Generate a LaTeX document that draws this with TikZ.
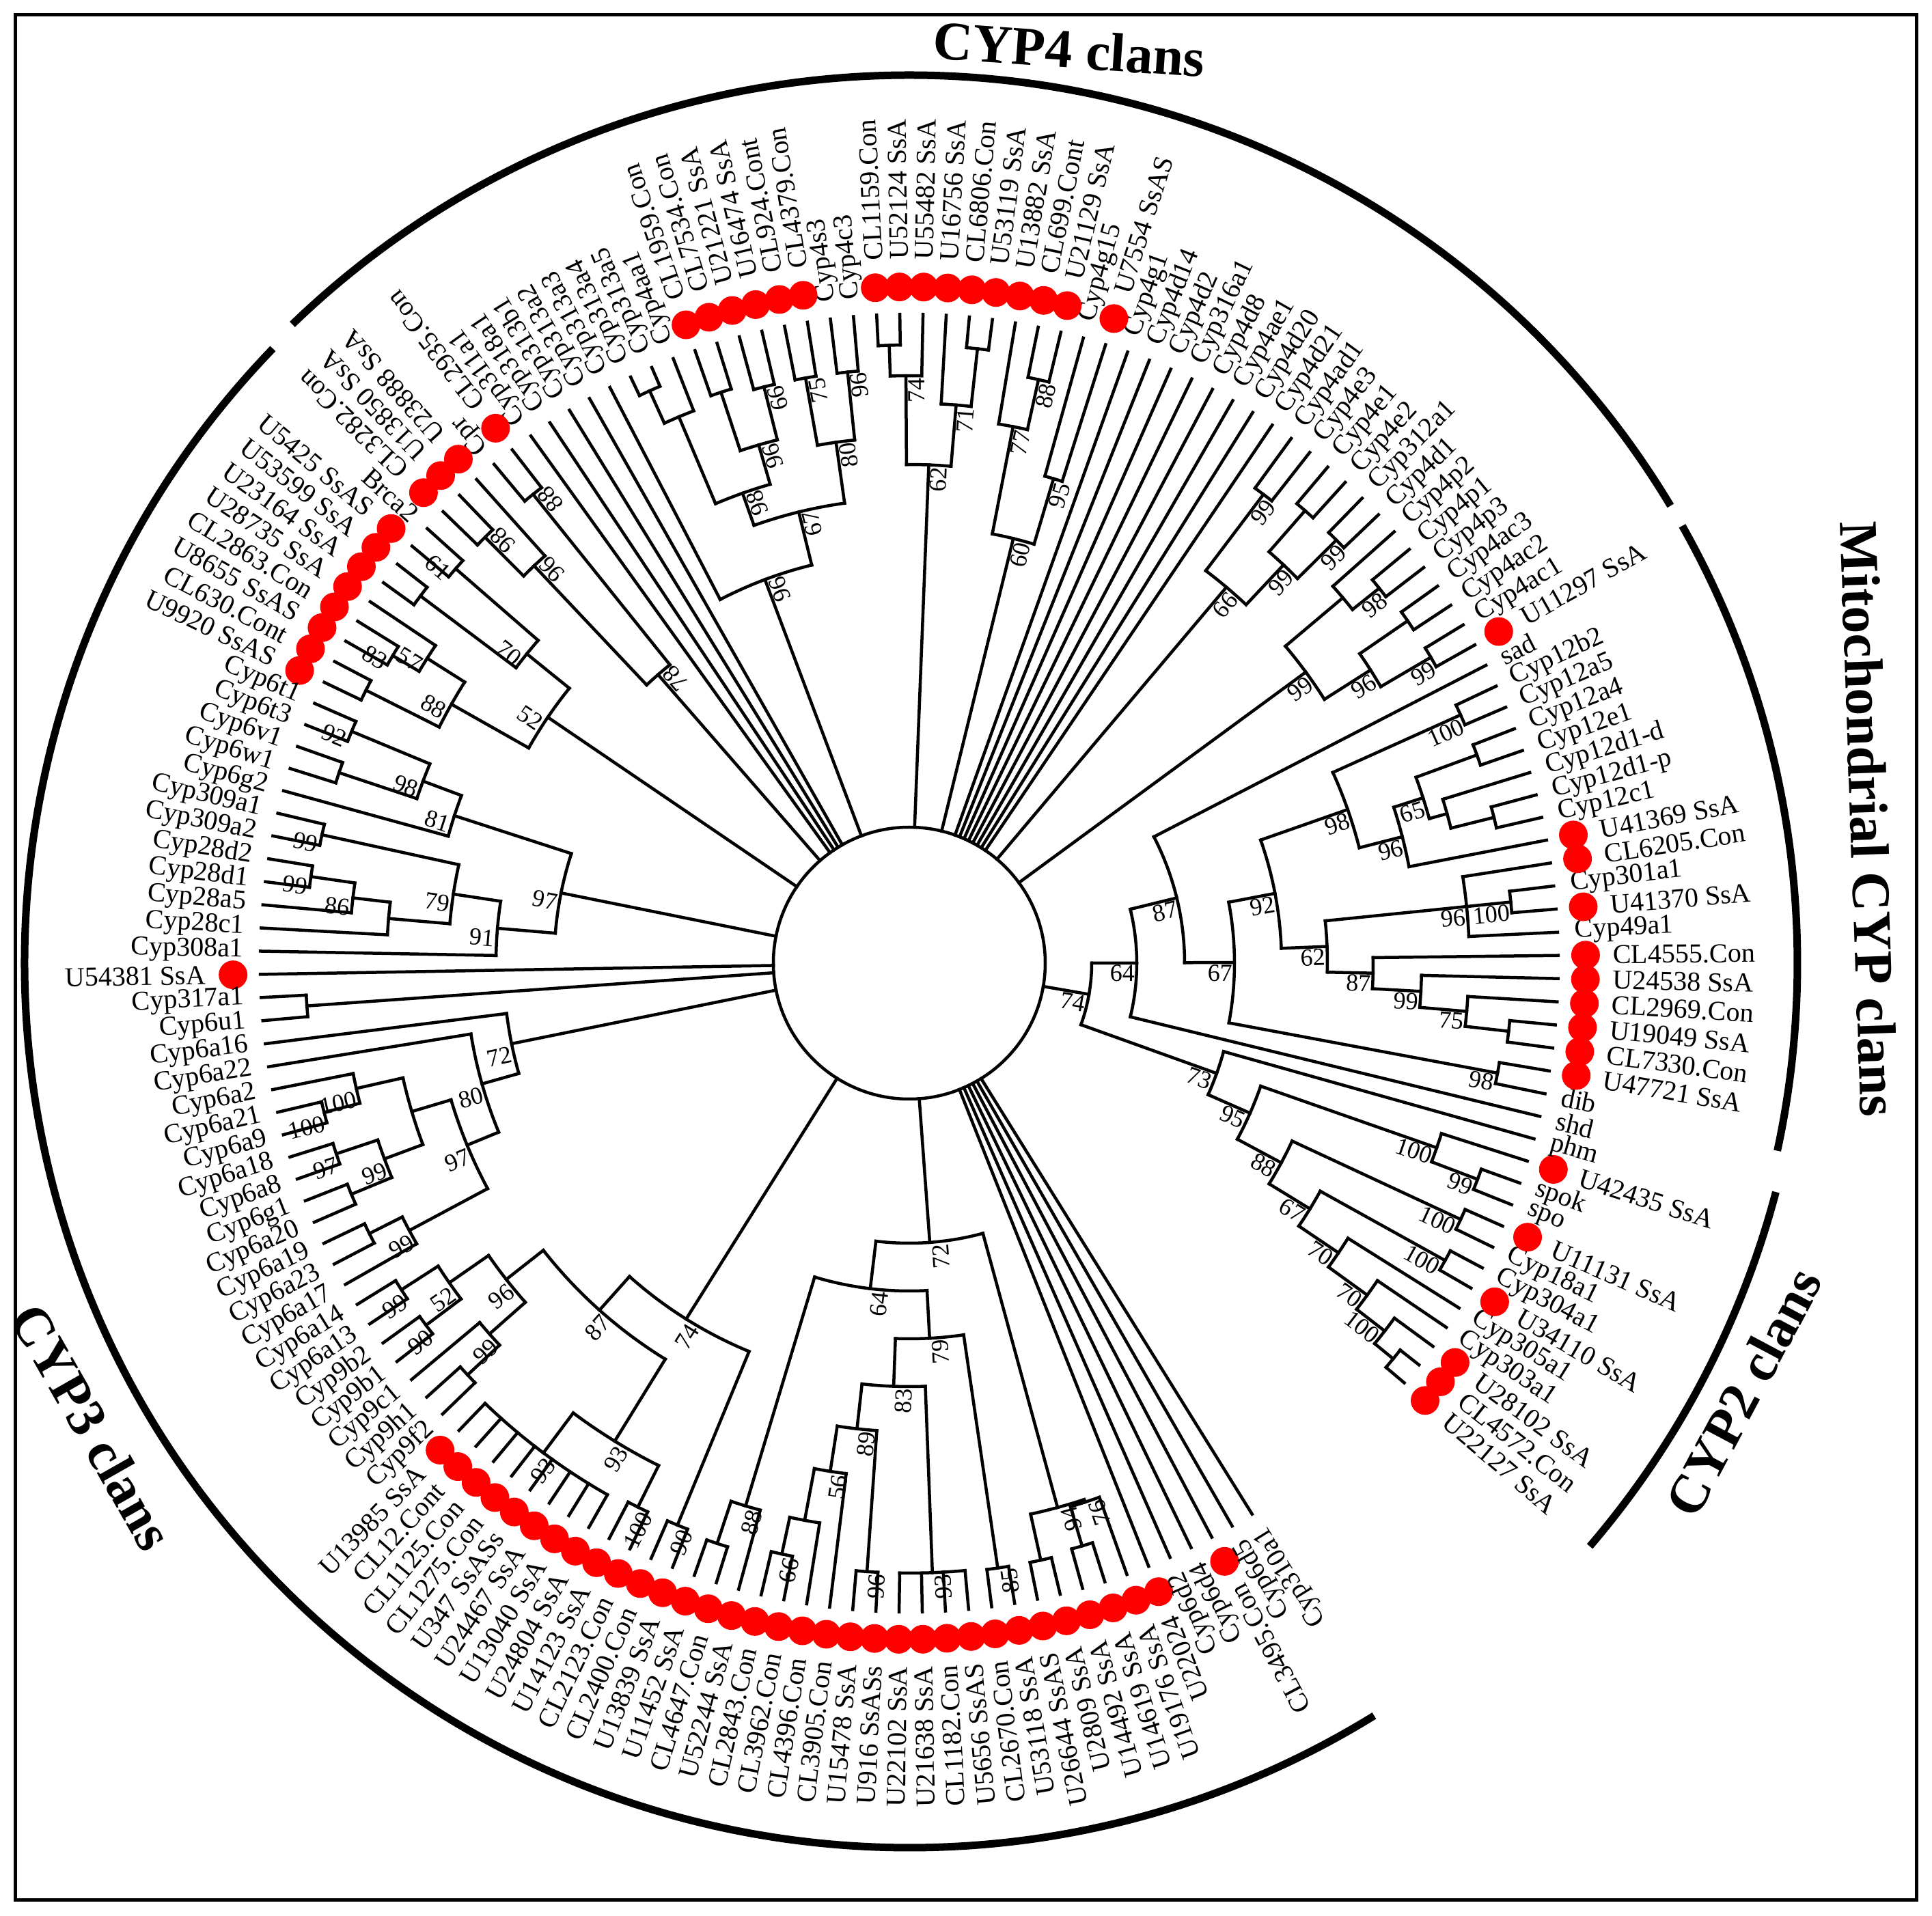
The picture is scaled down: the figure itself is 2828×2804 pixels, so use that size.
\documentclass[tikz,border=0pt]{standalone}
\usepackage{fontspec}
\setmainfont{Liberation Serif}
\newcommand\tboot[3]{%
  \ifx&#3&\else
    \pgfmathsetmacro\tbrot{(#1>=137 && #1<=310) ? #1-180 : #1}%
    \node[bootlab,rotate=\tbrot,anchor=north east] at (#1:#2) {#3};%
  \fi}
\newcommand\tleaf[3]{%
  \pgfmathsetmacro\lfang{-40.3+2.049*(#1-1)}%
  \expandafter\xdef\csname ang@l#1\endcsname{\lfang}%
  \coordinate (l#1) at (\lfang:950);
  \pgfmathsetmacro\lfrot{(\lfang>=137 && \lfang<=310) ? \lfang-180 : \lfang}%
  \pgfmathtruncatemacro\lfflip{(\lfang>=137 && \lfang<=310) ? 1 : 0}%
  \ifnum#3=1 \fill[dotc] (\lfang:990) circle[radius=21]; \def\lfr{1030}\else\def\lfr{975}\fi
  \ifnum\lfflip=1 \node[leaflab,rotate=\lfrot,anchor=east] (t#1) at (\lfang:\lfr) {#2};%
  \else \node[leaflab,rotate=\lfrot,anchor=west] (t#1) at (\lfang:\lfr) {#2};\fi
}
\newcommand\tnode[4]{%
  \gdef\tnmin{1000}\gdef\tnmax{-1000}%
  \foreach \chd in {#3}{%
    \edef\tnca{\csname ang@\chd\endcsname}%
    \draw[br] (\chd) -- (\tnca:#2);
    \pgfmathsetmacro\tnt{min(\tnmin,\tnca)}\xdef\tnmin{\tnt}%
    \pgfmathsetmacro\tnt{max(\tnmax,\tnca)}\xdef\tnmax{\tnt}%
  }%
  \draw[br] (\tnmin:#2) arc[start angle=\tnmin, end angle=\tnmax, radius=#2];
  \pgfmathsetmacro\tnmid{(\tnmin+\tnmax)/2}%
  \expandafter\xdef\csname ang@#1\endcsname{\tnmid}%
  \coordinate (#1) at (\tnmid:#2);
  \tboot{\tnmid}{#2}{#4}%
}
\newcommand\troot[1]{%
  \foreach \chd in {#1}{%
    \edef\tnca{\csname ang@\chd\endcsname}%
    \draw[br] (\chd) -- (\tnca:199);
  }}
\begin{document}
\begin{tikzpicture}[x=1pt,y=1pt,
  br/.style={line width=4.5pt,line cap=rect},
  leaflab/.style={font=\fontsize{40}{46}\selectfont,inner sep=0pt},
  bootlab/.style={font=\fontsize{36}{42}\selectfont,inner sep=3pt},
  cltitle/.style={font=\fontsize{80}{90}\selectfont\bfseries,inner sep=0pt},
  clanarc/.style={line width=11pt},
  dotc/.style={fill=red}]
\useasboundingbox (-1331,-1394) rectangle (1497,1410);
\draw[line width=5pt] (-1308,-1371) rectangle (1474,1388);
\coordinate (root) at (0,0);
\draw[br] (root) circle[radius=199];
% ---------------- leaves
\tleaf{1}{U22127 SsA}{1}
\tleaf{2}{CL4572.Con}{1}
\tleaf{3}{U28102 SsA}{1}
\tleaf{4}{Cyp303a1}{0}
\tleaf{5}{Cyp305a1}{0}
\tleaf{6}{U34110 SsA}{1}
\tleaf{7}{Cyp304a1}{0}
\tleaf{8}{Cyp18a1}{0}
\tleaf{9}{U11131 SsA}{1}
\tleaf{10}{spo}{0}
\tleaf{11}{spok}{0}
\tleaf{12}{U42435 SsA}{1}
\tleaf{13}{phm}{0}
\tleaf{14}{shd}{0}
\tleaf{15}{dib}{0}
\tleaf{16}{U47721 SsA}{1}
\tleaf{17}{CL7330.Con}{1}
\tleaf{18}{U19049 SsA}{1}
\tleaf{19}{CL2969.Con}{1}
\tleaf{20}{U24538 SsA}{1}
\tleaf{21}{CL4555.Con}{1}
\tleaf{22}{Cyp49a1}{0}
\tleaf{23}{U41370 SsA}{1}
\tleaf{24}{Cyp301a1}{0}
\tleaf{25}{CL6205.Con}{1}
\tleaf{26}{U41369 SsA}{1}
\tleaf{27}{Cyp12c1}{0}
\tleaf{28}{Cyp12d1-p}{0}
\tleaf{29}{Cyp12d1-d}{0}
\tleaf{30}{Cyp12e1}{0}
\tleaf{31}{Cyp12a4}{0}
\tleaf{32}{Cyp12a5}{0}
\tleaf{33}{Cyp12b2}{0}
\tleaf{34}{sad}{0}
\tleaf{35}{U11297 SsA}{1}
\tleaf{36}{Cyp4ac1}{0}
\tleaf{37}{Cyp4ac2}{0}
\tleaf{38}{Cyp4ac3}{0}
\tleaf{39}{Cyp4p3}{0}
\tleaf{40}{Cyp4p1}{0}
\tleaf{41}{Cyp4p2}{0}
\tleaf{42}{Cyp4d1}{0}
\tleaf{43}{Cyp312a1}{0}
\tleaf{44}{Cyp4e2}{0}
\tleaf{45}{Cyp4e1}{0}
\tleaf{46}{Cyp4e3}{0}
\tleaf{47}{Cyp4ad1}{0}
\tleaf{48}{Cyp4d21}{0}
\tleaf{49}{Cyp4d20}{0}
\tleaf{50}{Cyp4ae1}{0}
\tleaf{51}{Cyp4d8}{0}
\tleaf{52}{Cyp316a1}{0}
\tleaf{53}{Cyp4d2}{0}
\tleaf{54}{Cyp4d14}{0}
\tleaf{55}{Cyp4g1}{0}
\tleaf{56}{U7554 SsAS}{1}
\tleaf{57}{Cyp4g15}{0}
\tleaf{58}{U21129 SsA}{1}
\tleaf{59}{CL699.Cont}{1}
\tleaf{60}{U13882 SsA}{1}
\tleaf{61}{U53119 SsA}{1}
\tleaf{62}{CL6806.Con}{1}
\tleaf{63}{U16756 SsA}{1}
\tleaf{64}{U55482 SsA}{1}
\tleaf{65}{U52124 SsA}{1}
\tleaf{66}{CL1159.Con}{1}
\tleaf{67}{Cyp4c3}{0}
\tleaf{68}{Cyp4s3}{0}
\tleaf{69}{CL4379.Con}{1}
\tleaf{70}{CL924.Cont}{1}
\tleaf{71}{U16474 SsA}{1}
\tleaf{72}{U21221 SsA}{1}
\tleaf{73}{CL7534.Con}{1}
\tleaf{74}{CL1959.Con}{1}
\tleaf{75}{Cyp4aa1}{0}
\tleaf{76}{Cyp313a5}{0}
\tleaf{77}{Cyp313a4}{0}
\tleaf{78}{Cyp313a3}{0}
\tleaf{79}{Cyp313a2}{0}
\tleaf{80}{Cyp313b1}{0}
\tleaf{81}{Cyp318a1}{0}
\tleaf{82}{Cyp311a1}{0}
\tleaf{83}{CL2935.Con}{1}
\tleaf{84}{Cpr}{0}
\tleaf{85}{U23888 SsA}{1}
\tleaf{86}{U13850 SsA}{1}
\tleaf{87}{CL3282.Con}{1}
\tleaf{88}{Brca2}{0}
\tleaf{89}{U5425 SsAS}{1}
\tleaf{90}{U53599 SsA}{1}
\tleaf{91}{U23164 SsA}{1}
\tleaf{92}{U28735 SsA}{1}
\tleaf{93}{CL2863.Con}{1}
\tleaf{94}{U8655 SsAS}{1}
\tleaf{95}{CL630.Cont}{1}
\tleaf{96}{U9920 SsAS}{1}
\tleaf{97}{Cyp6t1}{0}
\tleaf{98}{Cyp6t3}{0}
\tleaf{99}{Cyp6v1}{0}
\tleaf{100}{Cyp6w1}{0}
\tleaf{101}{Cyp6g2}{0}
\tleaf{102}{Cyp309a1}{0}
\tleaf{103}{Cyp309a2}{0}
\tleaf{104}{Cyp28d2}{0}
\tleaf{105}{Cyp28d1}{0}
\tleaf{106}{Cyp28a5}{0}
\tleaf{107}{Cyp28c1}{0}
\tleaf{108}{Cyp308a1}{0}
\tleaf{109}{U54381 SsA}{1}
\tleaf{110}{Cyp317a1}{0}
\tleaf{111}{Cyp6u1}{0}
\tleaf{112}{Cyp6a16}{0}
\tleaf{113}{Cyp6a22}{0}
\tleaf{114}{Cyp6a2}{0}
\tleaf{115}{Cyp6a21}{0}
\tleaf{116}{Cyp6a9}{0}
\tleaf{117}{Cyp6a18}{0}
\tleaf{118}{Cyp6a8}{0}
\tleaf{119}{Cyp6g1}{0}
\tleaf{120}{Cyp6a20}{0}
\tleaf{121}{Cyp6a19}{0}
\tleaf{122}{Cyp6a23}{0}
\tleaf{123}{Cyp6a17}{0}
\tleaf{124}{Cyp6a14}{0}
\tleaf{125}{Cyp6a13}{0}
\tleaf{126}{Cyp9b2}{0}
\tleaf{127}{Cyp9b1}{0}
\tleaf{128}{Cyp9c1}{0}
\tleaf{129}{Cyp9h1}{0}
\tleaf{130}{Cyp9f2}{0}
\tleaf{131}{U13985 SsA}{1}
\tleaf{132}{CL12.Cont}{1}
\tleaf{133}{CL1125.Con}{1}
\tleaf{134}{CL1275.Con}{1}
\tleaf{135}{U347 SsASs}{1}
\tleaf{136}{U24467 SsA}{1}
\tleaf{137}{U13040 SsA}{1}
\tleaf{138}{U24804 SsA}{1}
\tleaf{139}{U14123 SsA}{1}
\tleaf{140}{CL2123.Con}{1}
\tleaf{141}{CL2400.Con}{1}
\tleaf{142}{U13839 SsA}{1}
\tleaf{143}{U11452 SsA}{1}
\tleaf{144}{CL4647.Con}{1}
\tleaf{145}{U52244 SsA}{1}
\tleaf{146}{CL2843.Con}{1}
\tleaf{147}{CL3962.Con}{1}
\tleaf{148}{CL4396.Con}{1}
\tleaf{149}{CL3905.Con}{1}
\tleaf{150}{U15478 SsA}{1}
\tleaf{151}{U916 SsASs}{1}
\tleaf{152}{U22102 SsA}{1}
\tleaf{153}{U21638 SsA}{1}
\tleaf{154}{CL1182.Con}{1}
\tleaf{155}{U5656 SsAS}{1}
\tleaf{156}{CL2670.Con}{1}
\tleaf{157}{U53118 SsA}{1}
\tleaf{158}{U26644 SsAS}{1}
\tleaf{159}{U2809 SsA}{1}
\tleaf{160}{U14492 SsA}{1}
\tleaf{161}{U14619 SsA}{1}
\tleaf{162}{U19176 SsA}{1}
\tleaf{163}{U22024}{1}
\tleaf{164}{Cyp6d2}{0}
\tleaf{165}{Cyp6d4}{0}
\tleaf{166}{CL3495.Con}{1}
\tleaf{167}{Cyp6d5}{0}
\tleaf{168}{Cyp310a1}{0}
% ---------------- CYP2 clade
\tnode{ka}{915}{l2,l1}{}
\tnode{kb}{880}{l3,ka}{100}
\tnode{kc}{828}{l4,kb}{70}
\tnode{kd}{758}{l5,kc}{70}
\tnode{ke}{897}{l7,l6}{100}
\tnode{kf}{688}{ke,kd}{67}
\tnode{kg}{890}{l9,l8}{100}
\tnode{kh}{618}{kg,kf}{88}
\tnode{ki}{890}{l11,l10}{99}
\tnode{kj}{818}{l12,ki}{100}
\tnode{kk}{545}{kj,kh}{95}
\tnode{kl}{478}{l13,kk}{73}
% ---------------- mitochondrial clade
\tnode{ma}{876}{l16,l15}{98}
\tnode{mb}{883}{l18,l17}{}
\tnode{mc}{819}{l19,mb}{75}
\tnode{md}{750}{l20,mc}{99}
\tnode{me}{679}{l21,md}{87}
\tnode{mf}{885}{l24,l23}{100}
\tnode{mg}{820}{l25,mf,l22}{96}
\tnode{mh}{612}{mg,me}{62}
\tnode{mi}{882}{l28,l27}{}
\tnode{mj}{817}{l29,mi}{}
\tnode{mk}{885}{l31,l30}{}
\tnode{ml}{790}{mk,mj}{65}
\tnode{mx}{745}{ml,l26}{96}
\tnode{mn}{885}{l33,l32}{100}
\tnode{mo}{680}{mn,mx}{98}
\tnode{mp}{545}{mo,mh}{92}
\tnode{mq}{476}{mp,ma}{67}
\tnode{mr}{403}{l34,mq}{87}
\tnode{ms}{333}{mr,l14}{64}
\tnode{mt}{267}{ms,kl}{74}
% ---------------- CYP4 clade
\tnode{ga}{885}{l36,l35}{99}
\tnode{gb}{885}{l38,l37}{}
\tnode{gc}{800}{gb,ga}{96}
\tnode{gd}{880}{l40,l39}{98}
\tnode{ge}{830}{l41,gd}{}
\tnode{gf}{720}{ge,gc}{99}
\tnode{gg}{880}{l43,l42}{99}
\tnode{gh}{880}{l45,l44}{}
\tnode{gi}{800}{gh,gg}{99}
\tnode{gj}{860}{l47,l46}{99}
\tnode{gk}{720}{gj,gi}{66}
\tnode{gl}{905}{l66,l65}{}
\tnode{gm}{860}{gl,l64}{74}
\tnode{gn}{905}{l62,l61}{}
\tnode{go}{820}{l63,gn}{71}
\tnode{gp}{730}{gm,go}{62}
\tnode{gq}{875}{l59,l58}{88}
\tnode{gr}{800}{l60,gq}{77}
\tnode{gs}{740}{l57,l56}{95}
\tnode{gt}{640}{gr,gs}{60}
\tnode{gu}{870}{l68,l67}{96}
\tnode{gv}{870}{l70,l69}{75}
\tnode{gw}{770}{gv,gu}{80}
\tnode{gx}{870}{l72,l71}{66}
\tnode{gy}{880}{l74,l73}{}
\tnode{gz}{790}{gy,gx}{96}
\tnode{ha}{920}{l77,l76}{}
\tnode{hb}{868}{ha,l75}{}
\tnode{hc}{730}{hb,gz}{98}
\tnode{hd}{680}{hc,gw}{67}
\tnode{he}{600}{l78,hd}{96}
\tnode{hf}{880}{l84,l83}{88}
\tnode{hg}{880}{l87,l86}{98}
\tnode{hh}{800}{hg,l85}{96}
\tnode{hi}{560}{hh,hf}{78}
% ---------------- CYP3 clade, left
\tnode{pa}{880}{l89,l88}{61}
\tnode{pb}{895}{l91,l90}{}
\tnode{pw}{720}{pb,pa}{70}
\tnode{pd}{880}{l94,l93}{83}
\tnode{pe}{835}{pd,l92}{57}
\tnode{pf}{890}{l96,l95}{}
\tnode{pg}{770}{pf,pe}{88}
\tnode{ph}{640}{pg,pw}{52}
\tnode{pi}{884}{l98,l97}{92}
\tnode{pj}{880}{l100,l99}{}
\tnode{pk}{760}{pj,pi}{98}
\tnode{pl}{700}{l101,pk}{81}
\tnode{pm}{880}{l103,l102}{99}
\tnode{pn}{885}{l105,l104}{99}
\tnode{po}{820}{l106,pn}{86}
\tnode{pp}{765}{l107,po}{}
\tnode{pq}{675}{pp,pm}{79}
\tnode{pr}{605}{l108,pq}{91}
\tnode{ps}{520}{pr,pl}{97}
\tnode{py}{884}{l111,l110}{}
\tnode{qa}{884}{l116,l115}{100}
\tnode{qb}{830}{qa,l114}{100}
\tnode{qc}{884}{l118,l117}{97}
\tnode{qd}{884}{l120,l119}{}
\tnode{qe}{820}{qd,qc}{99}
\tnode{qf}{760}{qe,qb}{}
\tnode{qg}{884}{l122,l121}{}
\tnode{qh}{830}{l123,qg}{99}
\tnode{qi}{700}{qh,qf}{97}
\tnode{qj}{650}{qi,l113}{80}
\tnode{qk}{594}{qj,l112}{72}
\tnode{ql}{884}{l125,l124}{99}
\tnode{qm}{884}{l127,l126}{90}
\tnode{qn}{820}{qm,ql}{52}
\tnode{qo}{884}{l130,l129}{}
\tnode{qp}{820}{qo,l128}{99}
\tnode{qq}{750}{qp,qn}{96}
% ---------------- CYP3 clade, bottom
\tnode{ra}{895}{l138,l137,l136,l135,l134,l133,l132,l131}{93}
\tnode{rb}{890}{l140,l139}{100}
\tnode{rc}{822}{rb,ra}{93}
\tnode{rd}{681}{rc,qq}{87}
\tnode{re}{890}{l142,l141}{90}
\tnode{rf}{615}{re,rd}{74}
\tnode{rg}{895}{l144,l143}{}
\tnode{rh}{830}{l145,rg}{88}
\tnode{ri}{885}{l147,l146}{66}
\tnode{rj}{830}{l148,ri}{}
\tnode{rk}{753}{l149,rj}{56}
\tnode{rl}{893}{l151,l150}{96}
\tnode{rx}{686}{rl,rk}{89}
\tnode{rn}{893}{l155,l154,l153,l152}{93}
\tnode{ro}{620}{rn,rx}{83}
\tnode{rp}{895}{l157,l156}{85}
\tnode{rq}{550}{rp,ro}{79}
\tnode{rr}{480}{rq,rh}{64}
\tnode{rs}{895}{l159,l158}{}
\tnode{rt}{890}{l161,l160}{}
\tnode{ru}{830}{l162,rt}{76}
\tnode{rv}{826}{ru,rs}{94}
\tnode{rw}{410}{rv,rr}{72}
% ---------------- root connections
\troot{mt,gf,gk,l48,l49,l50,l51,l52,l53,l54,l55,gt,gp,he,l79,l80,l81,l82,hi,ph,ps,l109,py,qk,rf,rw,l163,l164,l165,l166,l167,l168}
% ---------------- clan arcs and titles
\draw[clanarc] (31:1300) arc[start angle=31,end angle=134,radius=1300];
\draw[clanarc] (29.5:1300) arc[start angle=29.5,end angle=-12.2,radius=1300];
\draw[clanarc] (-14.8:1312) arc[start angle=-14.8,end angle=-40.6,radius=1312];
\draw[clanarc] (136:1295) arc[start angle=136,end angle=301.7,radius=1295];
\node[cltitle,rotate=-4] (tcyp4) at (234,1338) {CYP4 clans};
\node[cltitle,rotate=-88] (tmito) at (1405,211) {Mitochondrial CYP clans};
\node[cltitle,rotate=62] (tcyp2) at (1221,-628) {CYP2 clans};
\node[cltitle,rotate=-60.4] (tcyp3) at (-1196,-679) {CYP3 clans};
\end{tikzpicture}
\end{document}
